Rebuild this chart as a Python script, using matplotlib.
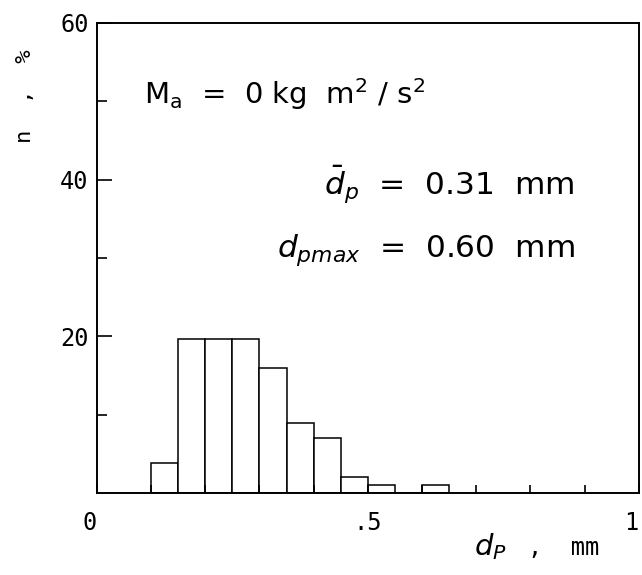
import numpy as np
import matplotlib.pyplot as plt

plt.rcParams['mathtext.fontset'] = 'dejavusans'

# particle diameter bins (mm) and share n (%)
bin_left = [0.10, 0.15, 0.20, 0.25, 0.30, 0.35, 0.40, 0.45, 0.50, 0.55, 0.60]
share = [3.8, 19.7, 19.7, 19.7, 15.9, 9.0, 7.0, 2.0, 1.0, 0.0, 1.0]
bin_width = 0.05

x_ticks = [0, 0.5, 1]
x_ticklabels = ['0', '.5', '1']
y_ticks = [20, 40, 60]
y_ticklabels = ['20', '40', '60']

mono = 'DejaVu Sans Mono'

fig = plt.figure(figsize=(6.42, 5.75), dpi=100)
ax = fig.add_axes([0.151, 0.1426, 0.844, 0.8174])

ax.bar(bin_left, share, width=bin_width, align='edge',
       facecolor='white', edgecolor='black', linewidth=1.1)

ax.set_xlim(0, 1)
ax.set_ylim(0, 60)

for s in ax.spines.values():
    s.set_linewidth(1.4)

ax.set_xticks(x_ticks)
ax.set_xticklabels(x_ticklabels, fontfamily=mono, fontsize=17)
ax.set_xticks(np.arange(0.1, 1.0, 0.1), minor=True)
ax.set_yticks(y_ticks)
ax.set_yticklabels(y_ticklabels, fontfamily=mono, fontsize=17)
ax.set_yticks([10, 30, 50], minor=True)
xl = ax.get_xticklabels()
xl[0].set_ha('right')
xl[-1].set_ha('right')

ax.tick_params(axis='x', which='both', direction='in', length=6, width=1.2, pad=13)
ax.tick_params(axis='y', which='major', direction='in', length=11, width=1.2, pad=6)
ax.tick_params(axis='y', which='minor', direction='in', length=7, width=1.2)

# annotations
ax.text(0.087, 49.6, r'M$_{\rm a}$  =  0 kg  m$^{2}$ / s$^{2}$', fontsize=21,
        fontfamily='DejaVu Sans', va='baseline', ha='left')
ax.text(0.882, 38.0, r'$\bar{d}_{p}$  =  0.31  mm', fontsize=22.5,
        fontfamily='DejaVu Sans', va='baseline', ha='right')
ax.text(0.882, 30.2, r'$d_{pmax}$  =  0.60  mm', fontsize=22.5,
        fontfamily='DejaVu Sans', va='baseline', ha='right')

# axis labels
fig.text(0.039, 0.833, 'n  ,  %', rotation=90, fontfamily=mono, fontsize=16,
         ha='center', va='center')
fig.text(0.738, 0.035, r'$d_{P}$', fontsize=21, ha='left', va='baseline')
fig.text(0.822, 0.035, ',  mm', fontfamily=mono, fontsize=17,
         ha='left', va='baseline')

fig.savefig('out.png', dpi=100, facecolor='white')
